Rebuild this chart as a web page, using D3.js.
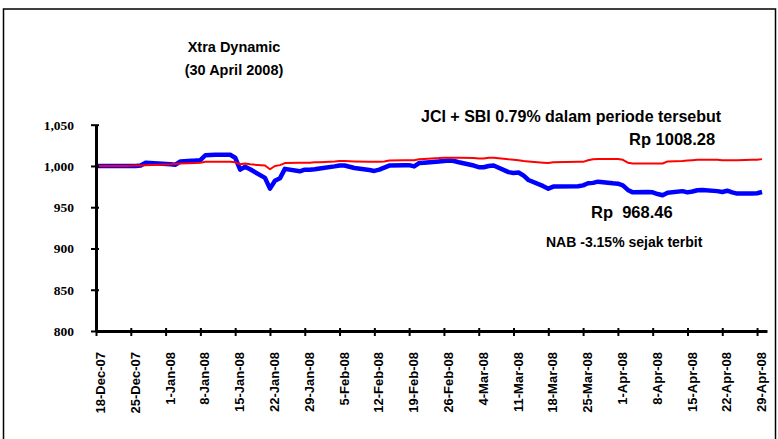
<!DOCTYPE html>
<html><head><meta charset="utf-8">
<script src="https://cdn.jsdelivr.net/npm/d3@7"></script>
<style>html,body{margin:0;padding:0;background:#fff;}svg{display:block;}</style>
</head><body>
<svg id="chart" width="778" height="439"></svg>
<script>
const dates = ["2007-12-18","2007-12-19","2007-12-20","2007-12-21","2007-12-24","2007-12-26","2007-12-27","2007-12-28","2008-01-02","2008-01-03","2008-01-04","2008-01-07","2008-01-08","2008-01-09","2008-01-11","2008-01-14","2008-01-15","2008-01-16","2008-01-17","2008-01-18","2008-01-21","2008-01-22","2008-01-23","2008-01-24","2008-01-25","2008-01-28","2008-01-29","2008-01-30","2008-01-31","2008-02-01","2008-02-04","2008-02-05","2008-02-06","2008-02-08","2008-02-11","2008-02-12","2008-02-13","2008-02-14","2008-02-15","2008-02-18","2008-02-19","2008-02-20","2008-02-21","2008-02-22","2008-02-25","2008-02-26","2008-02-27","2008-02-28","2008-02-29","2008-03-03","2008-03-04","2008-03-05","2008-03-06","2008-03-07","2008-03-10","2008-03-11","2008-03-12","2008-03-13","2008-03-14","2008-03-17","2008-03-18","2008-03-19","2008-03-24","2008-03-25","2008-03-26","2008-03-27","2008-03-28","2008-03-31","2008-04-01","2008-04-02","2008-04-03","2008-04-04","2008-04-07","2008-04-08","2008-04-09","2008-04-10","2008-04-11","2008-04-14","2008-04-15","2008-04-16","2008-04-17","2008-04-18","2008-04-21","2008-04-22","2008-04-23","2008-04-24","2008-04-25","2008-04-28","2008-04-29","2008-04-30"];
const nabValues = [1000,1000,1000,1000,1000,1000,1000.5,1004,1002,1001.5,1005.5,1006.5,1007,1013,1013.5,1013.5,1010,995.5,999,996,985.5,972.5,982,985,996.5,993.5,995.5,995.5,996,997,999.5,1000.5,1000.5,997.5,995,994,995.5,998,1000.5,1001,1001,999.5,1003.5,1004,1005.5,1006,1006.5,1006,1004.5,1000.5,998.5,998.5,1000,1000.5,992.5,991.5,992,988.5,983,975.5,972.5,975,975.5,976.5,979,979.5,981,979,978.5,976.5,971,968,968.5,968,966,964.5,967.5,969.5,968,969,970.5,971,969.5,968.5,970,968,966.5,966.5,967,968.46];
const jciSbiValues = [1000,1000,1000,1000,1000,1000.5,1000.5,1001,1002,1002.5,1003,1003.5,1004,1005,1005,1005,1004.5,1002,1003,1002,1000.5,996,1000,1001,1003.5,1004,1004,1004,1004.5,1004.5,1005.5,1006,1006,1005.5,1005,1005,1005,1005.5,1006.5,1007,1007,1007,1008,1008.5,1009.5,1010,1010,1010,1010,1009.5,1009,1009,1010,1010,1008,1007.5,1007,1006,1005.5,1004,1003.5,1004.5,1005,1005,1007,1008,1008.5,1008.5,1008.5,1007.5,1004,1003,1003,1003,1003,1003,1005.5,1006,1006.5,1007,1007.5,1007.5,1007.5,1007,1007,1007,1007,1007.5,1007.5,1008.28];
const xTickLabels = ["18-Dec-07","25-Dec-07","1-Jan-08","8-Jan-08","15-Jan-08","22-Jan-08","29-Jan-08","5-Feb-08","12-Feb-08","19-Feb-08","26-Feb-08","4-Mar-08","11-Mar-08","18-Mar-08","25-Mar-08","1-Apr-08","8-Apr-08","15-Apr-08","22-Apr-08","29-Apr-08"];
const yTicks = [800,850,900,950,1000,1050];
const titleLines = ["Xtra Dynamic","(30 April 2008)"];
const notes = ["JCI + SBI 0.79% dalam periode tersebut","Rp 1008.28","Rp  968.46","NAB -3.15% sejak terbit"];

const parse = d3.timeParse("%Y-%m-%d");
const parseTick = d3.timeParse("%d-%b-%y");
const svg = d3.select("#chart");

svg.append("rect").attr("x",3.5).attr("y",9).attr("width",772).attr("height",445)
  .attr("fill","none").attr("stroke","#000").attr("stroke-width",1.5);

const x = d3.scaleTime().domain([parse("2007-12-18"), parse("2008-05-01")]).range([96, 767]);
const y = d3.scaleLinear().domain([800,1050]).range([331, 124.7]);

// title
svg.selectAll("text.title").data(titleLines).join("text")
  .attr("class","title").attr("x",234).attr("y",(d,i)=>52+i*23)
  .attr("text-anchor","middle").attr("font-family","Liberation Sans, Arial, sans-serif")
  .attr("font-weight","bold").attr("font-size",14.5).text(d=>d);

// lines
const nab = dates.map((d,i)=>({date:parse(d), v:nabValues[i]}));
const jci = dates.map((d,i)=>({date:parse(d), v:jciSbiValues[i]}));
const line = d3.line().x(d=>x(d.date)).y(d=>y(d.v));
svg.append("path").datum(nab).attr("d",line).attr("fill","none")
  .attr("stroke","#0000ff").attr("stroke-width",4.5).attr("stroke-linejoin","round");
svg.append("path").datum(jci).attr("d",line).attr("fill","none")
  .attr("stroke","#ff0000").attr("stroke-width",2).attr("stroke-linejoin","round");

// y axis
const yAxis = svg.append("g").attr("transform","translate(96,0)")
  .call(d3.axisLeft(y).tickValues(yTicks).tickFormat(d3.format(",")).tickSize(5).tickSizeOuter(0));
yAxis.select(".domain").attr("stroke","#000").attr("stroke-width",3);
yAxis.selectAll(".tick line").attr("stroke","#000").attr("stroke-width",2).attr("x2",-5).attr("x1",3);
yAxis.selectAll(".tick text").attr("x",-22).attr("font-family","Liberation Serif, Times New Roman, serif")
  .attr("font-weight","bold").attr("font-size",13.5).attr("fill","#000");

// x axis
const xAxis = svg.append("g").attr("transform","translate(0,331)")
  .call(d3.axisBottom(x).tickValues(xTickLabels.map(t=>parseTick(t))).tickFormat((d,i)=>xTickLabels[i]).tickSize(5).tickSizeOuter(0));
xAxis.select(".domain").attr("stroke","#000").attr("stroke-width",3);
xAxis.selectAll(".tick line").attr("stroke","#000").attr("stroke-width",2).attr("y1",-3).attr("y2",5);
xAxis.selectAll(".tick text")
  .attr("font-family","Liberation Sans, Arial, sans-serif").attr("font-weight","bold")
  .attr("font-size",13).attr("fill","#000")
  .attr("text-anchor","end")
  .attr("x",-21).attr("y",0).attr("dy","0.35em").attr("dx",0)
  .attr("transform","translate(4,0) rotate(-90)");

// annotations
const notePos = [[421,121.5],[629,145],[591,218],[546,247]];
const noteSize = [16,16.5,16.5,14];
svg.selectAll("text.note").data(notes).join("text")
  .attr("class","note").attr("x",(d,i)=>notePos[i][0]).attr("y",(d,i)=>notePos[i][1])
  .attr("font-family","Liberation Sans, Arial, sans-serif").attr("font-weight","bold")
  .attr("font-size",(d,i)=>noteSize[i]).style("white-space","pre").text(d=>d);
</script>
</body></html>
